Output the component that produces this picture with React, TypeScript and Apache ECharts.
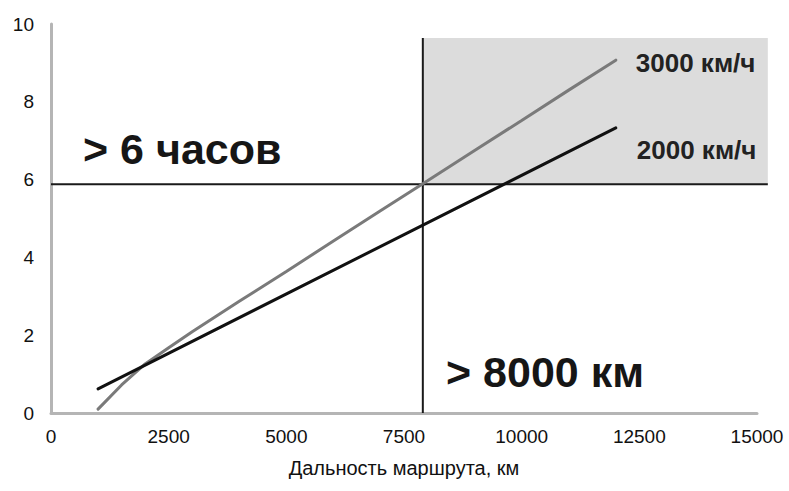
import React, { useEffect, useRef } from "react";
import * as echarts from "echarts";

const xTicks = [0, 2500, 5000, 7500, 10000, 12500, 15000];
const yTicks = [0, 2, 4, 6, 8, 10];
const seriesNames = ["3000 км/ч", "2000 км/ч"];
const fastX = [1000, 1500, 2000, 2500, 3000, 4000, 5000, 6000, 7000, 8000, 9000, 10000, 11000, 12000];
const fastY = [0.1, 0.72, 1.26, 1.68, 2.09, 2.87, 3.64, 4.42, 5.2, 5.97, 6.75, 7.52, 8.3, 9.07];
const slowX = [1000, 12000];
const slowY = [0.62, 7.33];
const thresholdDistance = 7900;
const thresholdHours = 5.88;
const zoneRight = 15230;
const zoneTop = 9.64;
const xAxisName = "Дальность маршрута, км";
const hoursLabel = "> 6 часов";
const distanceLabel = "> 8000 км";

const FONT = "'Liberation Sans', Arial, sans-serif";

export default function App() {
  const ref = useRef<HTMLDivElement>(null);
  useEffect(() => {
    if (!ref.current) return;
    const chart = echarts.init(ref.current, undefined, { renderer: "svg" });
    chart.setOption({
      animation: false,
      backgroundColor: "#ffffff",
      textStyle: { fontFamily: FONT },
      grid: { left: 51, right: 32, top: 24, bottom: 78, containLabel: false, outerBoundsMode: "none" },
      xAxis: {
        type: "value",
        min: xTicks[0],
        max: xTicks[xTicks.length - 1],
        interval: xTicks[1] - xTicks[0],
        name: xAxisName,
        nameLocation: "middle",
        nameGap: 45,
        nameTextStyle: { fontSize: 20, color: "#111", fontFamily: FONT },
        axisLine: { show: true, lineStyle: { color: "#b5b5b5", width: 3 } },
        axisTick: { show: false },
        splitLine: { show: false },
        axisLabel: { fontSize: 19, color: "#111", margin: 14, fontFamily: FONT, formatter: (v: number) => String(v) },
      },
      yAxis: {
        type: "value",
        min: yTicks[0],
        max: yTicks[yTicks.length - 1],
        interval: yTicks[1] - yTicks[0],
        axisLine: { show: true, lineStyle: { color: "#b5b5b5", width: 3 } },
        axisTick: { show: false },
        splitLine: { show: false },
        axisLabel: { fontSize: 19, color: "#111", margin: 17, fontFamily: FONT },
      },
      series: [
        {
          type: "line",
          name: seriesNames[0],
          data: fastX.map((x, i) => [x, fastY[i]]),
          showSymbol: false,
          symbol: "none",
          z: 3,
          lineStyle: { color: "#7a7a7a", width: 3, cap: "round" },
          endLabel: {
            show: true,
            formatter: seriesNames[0],
            distance: 20,
            offset: [0, 3],
            fontSize: 26,
            fontWeight: "bold",
            color: "#222",
            fontFamily: FONT,
          },
        },
        {
          type: "line",
          name: seriesNames[1],
          data: slowX.map((x, i) => [x, slowY[i]]),
          showSymbol: false,
          symbol: "none",
          z: 3,
          lineStyle: { color: "#111111", width: 3, cap: "round" },
          endLabel: {
            show: true,
            formatter: seriesNames[1],
            distance: 21,
            offset: [0, 22],
            fontSize: 26,
            fontWeight: "bold",
            color: "#222",
            fontFamily: FONT,
          },
        },
      ],
    });

    const px = (x: number, y: number) => chart.convertToPixel({ gridIndex: 0 }, [x, y]) as number[];
    const zoneA = px(thresholdDistance, thresholdHours);
    const zoneB = px(zoneRight, zoneTop);
    const hStart = px(xTicks[0], thresholdHours);
    const hEnd = px(zoneRight, thresholdHours);
    const vStart = px(thresholdDistance, yTicks[0]);
    const vEnd = px(thresholdDistance, zoneTop);

    chart.setOption({
      graphic: [
        {
          type: "rect",
          z: 0,
          silent: true,
          shape: {
            x: Math.min(zoneA[0], zoneB[0]),
            y: Math.min(zoneA[1], zoneB[1]),
            width: Math.abs(zoneB[0] - zoneA[0]),
            height: Math.abs(zoneB[1] - zoneA[1]),
          },
          style: { fill: "#dcdcdc" },
        },
        {
          type: "line",
          z: 1,
          silent: true,
          shape: { x1: hStart[0], y1: hStart[1], x2: hEnd[0], y2: hEnd[1] },
          style: { stroke: "#1a1a1a", lineWidth: 2 },
        },
        {
          type: "line",
          z: 1,
          silent: true,
          shape: { x1: vStart[0], y1: vStart[1], x2: vEnd[0], y2: vEnd[1] },
          style: { stroke: "#1a1a1a", lineWidth: 2 },
        },
        {
          type: "text",
          x: 83,
          y: 149,
          style: { text: hoursLabel, font: `bold 43px ${FONT}`, fill: "#161616", verticalAlign: "middle" },
        },
        {
          type: "text",
          x: 446,
          y: 372,
          style: { text: distanceLabel, font: `bold 43px ${FONT}`, fill: "#161616", verticalAlign: "middle" },
        },
      ],
    });
    return () => chart.dispose();
  }, []);
  return <div ref={ref} style={{ position: "fixed", left: 0, top: 0, width: 789, height: 491 }} />;
}
